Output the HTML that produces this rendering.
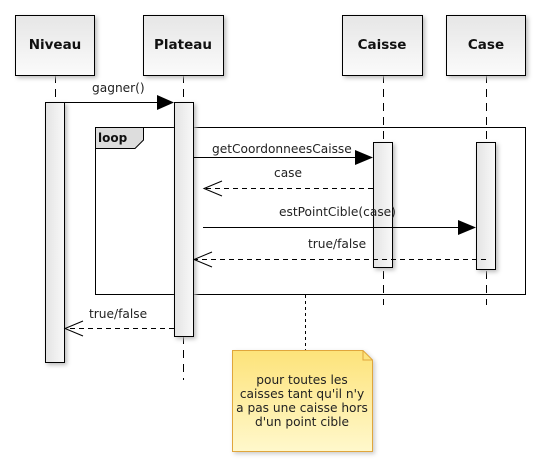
<!DOCTYPE html>
<html><head><meta charset="utf-8"><style>
html,body{margin:0;padding:0;background:#fff;}
svg{display:block;font-family:"DejaVu Sans","Liberation Sans",sans-serif;}
</style></head><body>
<svg width="541" height="467" viewBox="0 0 541 467" xmlns="http://www.w3.org/2000/svg">
<defs>
<linearGradient id="g" x1="0" y1="0" x2="0" y2="1"><stop offset="0" stop-color="#e6e6e6"/><stop offset="1" stop-color="#fbfbfb"/></linearGradient>
<linearGradient id="ga" x1="0" y1="0" x2="1" y2="0"><stop offset="0" stop-color="#e4e4e4"/><stop offset="1" stop-color="#f8f8f8"/></linearGradient>
<linearGradient id="gn" x1="0" y1="0" x2="0" y2="1"><stop offset="0" stop-color="#fde37a"/><stop offset="1" stop-color="#fff8cc"/></linearGradient>
</defs>
<g stroke="#000" stroke-width="1" stroke-dasharray="8,6">
<line x1="55.5" y1="75" x2="55.5" y2="102"/>
<line x1="183.5" y1="75" x2="183.5" y2="102"/>
<line x1="183.5" y1="336" x2="183.5" y2="380"/>
<line x1="383.5" y1="75" x2="383.5" y2="305"/>
<line x1="486.5" y1="75" x2="486.5" y2="305"/>
</g>
<g stroke="#000" fill="url(#g)">
<rect x="15.5" y="15.5" width="79" height="60" style="filter:drop-shadow(2px 2px 2px #bbb)"/>
<rect x="143.5" y="15.5" width="80" height="60" style="filter:drop-shadow(2px 2px 2px #bbb)"/>
<rect x="342.5" y="15.5" width="80" height="60" style="filter:drop-shadow(2px 2px 2px #bbb)"/>
<rect x="446.5" y="15.5" width="79" height="60" style="filter:drop-shadow(2px 2px 2px #bbb)"/>
</g>
<g font-weight="bold" font-size="13.5" text-anchor="middle" fill="#111">
<text x="55" y="49">Niveau</text>
<text x="183" y="49">Plateau</text>
<text x="382" y="49">Caisse</text>
<text x="486" y="49">Case</text>
</g>
<rect x="95.5" y="127.5" width="430" height="167" fill="none" stroke="#000"/>
<path d="M95.5 127.5 H143.5 V140 L135 148.5 H95.5 Z" fill="#ddd" stroke="#000"/>
<text x="98" y="142" font-size="12" font-weight="bold" fill="#111">loop</text>
<g stroke="#000" fill="url(#ga)">
<rect x="45.5" y="102.5" width="19" height="260" style="filter:drop-shadow(2px 2px 2px #bbb)"/>
<rect x="174.5" y="102.5" width="19" height="234" style="filter:drop-shadow(2px 2px 2px #bbb)"/>
<rect x="373.5" y="142.5" width="19" height="125" style="filter:drop-shadow(2px 2px 2px #bbb)"/>
<rect x="476.5" y="142.5" width="19" height="127" style="filter:drop-shadow(2px 2px 2px #bbb)"/>
</g>
<g stroke="#000" fill="none">
<line x1="64" y1="102.5" x2="158" y2="102.5"/>
<line x1="193" y1="157.5" x2="357" y2="157.5"/>
<line x1="203" y1="227.5" x2="460" y2="227.5"/>
<g stroke-dasharray="5,4">
<line x1="373" y1="188.5" x2="204" y2="188.5"/>
<line x1="486" y1="259.5" x2="194" y2="259.5"/>
<line x1="174" y1="328.5" x2="65" y2="328.5"/>
</g>
<path d="M222 181 L204 188.5 L222 196"/>
<path d="M212 252 L194 259.5 L212 267"/>
<path d="M83 321 L65 328.5 L83 336"/>
</g>
<g fill="#000">
<path d="M157 95 L174 102.5 L157 110 Z"/>
<path d="M355 150 L373 157.5 L355 165 Z"/>
<path d="M458 220 L476 227.5 L458 235 Z"/>
</g>
<g font-size="12.2" fill="#222">
<text x="92" y="92">gagner()</text>
<text x="212" y="153">getCoordonneesCaisse</text>
<text x="274" y="177">case</text>
<text x="279" y="216">estPointCible(case)</text>
<text x="308" y="248">true/false</text>
<text x="89" y="318">true/false</text>
</g>
<line x1="305.5" y1="295" x2="305.5" y2="350" stroke="#000" stroke-dasharray="3,3"/>
<path d="M232.5 350.5 H363 L372.5 360 V451.5 H232.5 Z" fill="url(#gn)" stroke="#e0a63c" style="filter:drop-shadow(2px 2px 2px #ccc)"/>
<path d="M363 350.5 V360 H372.5" fill="none" stroke="#e0a63c"/>
<g font-size="12.2" fill="#222" text-anchor="middle">
<text x="302" y="384">pour toutes les</text>
<text x="302" y="398">caisses tant qu'il n'y</text>
<text x="302" y="412">a pas une caisse hors</text>
<text x="302" y="426">d'un point cible</text>
</g>
</svg>
</body></html>
